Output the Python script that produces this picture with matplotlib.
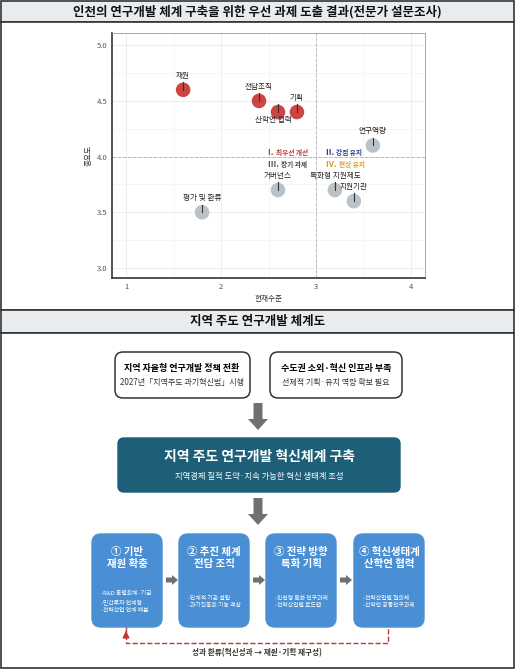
import matplotlib
matplotlib.use("Agg")
import matplotlib.pyplot as plt
from matplotlib.patches import FancyBboxPatch, Rectangle, FancyArrow

plt.rcParams['font.family'] = ['Noto Sans CJK KR', 'DejaVu Sans']

labels = ["재원", "전담조직", "산학연 협력", "기획", "연구역량", "거버넌스", "특화형 지원제도", "지원기관", "평가 및 환류"]
current = [1.6, 2.4, 2.6, 2.8, 3.6, 2.6, 3.2, 3.4, 1.8]
importance = [4.6, 4.5, 4.4, 4.4, 4.1, 3.7, 3.7, 3.6, 3.5]
priority = [True, True, True, True, False, False, False, False, False]

W, H = 515, 670
fig = plt.figure(figsize=(W/100, H/100), dpi=100)
bg = fig.add_axes([0, 0, 1, 1])
bg.set_xlim(0, W); bg.set_ylim(H, 0); bg.axis('off')

def header(y0, y1, text):
    bg.add_patch(Rectangle((1, y0), W-2, y1-y0, fc='#e9ecef', ec='#333', lw=1.2))
    bg.text(W/2, (y0+y1)/2, text, ha='center', va='center', fontsize=9, weight='bold', color='#111')

header(1, 22, "인천의 연구개발 체계 구축을 위한 우선 과제 도출 결과(전문가 설문조사)")
bg.add_patch(Rectangle((1, 22), W-2, 288, fc='white', ec='#333', lw=1.2))
header(310, 333, "지역 주도 연구개발 체계도")
bg.add_patch(Rectangle((1, 333), W-2, 335, fc='white', ec='#333', lw=1.2))

# scatter axes
ax = fig.add_axes([112/W, 1-278/H, (425-112)/W, (278-33)/H])
ax.set_xlim(0.85, 4.15); ax.set_ylim(2.91, 5.11)
ax.set_xticks([1, 2, 3, 4]); ax.set_yticks([3.0, 3.5, 4.0, 4.5, 5.0])
ax.set_yticklabels(["3.0", "3.5", "4.0", "4.5", "5.0"])
ax.tick_params(labelsize=5.5, colors='#555', length=0)
ax.grid(True, color='#ebebeb', lw=0.6)
ax.set_xticks([1.5, 2.5, 3.5], minor=True); ax.set_yticks([3.25, 3.75, 4.25, 4.75], minor=True)
ax.grid(True, which='minor', color='#f3f3f3', lw=0.5)
ax.tick_params(which='minor', length=0)
for s in ['top', 'right']:
    ax.spines[s].set_color('#999'); ax.spines[s].set_linewidth(0.6)
for s in ['left', 'bottom']:
    ax.spines[s].set_color('#333'); ax.spines[s].set_linewidth(1.2)
ax.axvline(3.0, color='#bbb', ls='--', lw=0.7)
ax.axhline(4.0, color='#bbb', ls='--', lw=0.7)
ax.set_xlabel("현재수준", fontsize=5.5, color='#333', labelpad=3)
ax.set_ylabel("중요도", fontsize=5.5, color='#333', labelpad=3)
for x, y, l, p in zip(current, importance, labels, priority):
    ax.scatter(x, y, s=110, color='#cc4444' if p else '#b8c2c8', zorder=3, edgecolors='none')
    ax.plot([x, x], [y, y+0.07], color='#333', lw=0.8, zorder=4)
    if l == "산학연 협력":
        ax.text(x-0.05, y-0.07, l, ha='center', va='center', fontsize=5.5, color='#222', zorder=5)
    else:
        ax.text(x, y+0.09, l, ha='center', va='bottom', fontsize=5.5, color='#222', zorder=5)

def quad(x, y, num, txt, c, tc, va):
    t = ax.text(x, y, num + " ", ha='left', va=va, fontsize=6, color=c, weight='bold')
    ax.annotate(txt, xycoords=t, xy=(1, 0.5), va='center', ha='left', fontsize=4.8, color=tc, weight='bold')

quad(2.5, 4.035, "I.", "최우선 개선", '#c0392b', '#c0392b', 'center')
quad(2.5, 3.93, "III.", "장기 과제", '#555', '#444', 'center')
quad(3.11, 4.035, "II.", "강점 유지", '#2c3e8c', '#2c3e8c', 'center')
quad(3.11, 3.93, "IV.", "현상 유지", '#e0a020', '#e0a020', 'center')

# diagram
def rbox(x0, y0, x1, y1, fc, ec, lw=1, r=8):
    bg.add_patch(FancyBboxPatch((x0, y0), x1-x0, y1-y0, boxstyle=f"round,pad=0,rounding_size={r}",
                                fc=fc, ec=ec, lw=lw))

rbox(115, 352, 250, 398, 'white', '#333', 1.1)
bg.text(182, 368, "지역 자율형 연구개발 정책 전환", ha='center', va='center', fontsize=6.5, weight='bold')
bg.text(182, 382, "2027년「지역주도 과기혁신법」시행", ha='center', va='center', fontsize=5.8, color='#333')
rbox(270, 352, 402, 398, 'white', '#333', 1.1)
bg.text(336, 368, "수도권 소외·혁신 인프라 부족", ha='center', va='center', fontsize=6.5, weight='bold')
bg.text(336, 382, "선제적 기획·유치 역량 확보 필요", ha='center', va='center', fontsize=5.8, color='#333')

def down_arrow(x, y0, y1):
    bg.add_patch(FancyArrow(x, y0, 0, y1-y0, width=9, head_width=20, head_length=11,
                            length_includes_head=True, color='#707070', lw=0))

down_arrow(258, 403, 430)
rbox(118, 438, 400, 492, '#1d5f78', '#1d5f78', 1, 6)
bg.text(259, 457, "지역 주도 연구개발 혁신체계 구축", ha='center', va='center', fontsize=10, weight='bold', color='white')
bg.text(259, 477, "지역경제 질적 도약·지속 가능한 혁신 생태계 조성", ha='center', va='center', fontsize=6, color='white')
down_arrow(258, 498, 525)

steps = [("① 기반\n재원 확충", "-R&D 특별회계·기금\n-민간투자 연계형\n-전략산업 연계 배분"),
         ("② 추진 체계\n전담 조직", "-단계적 기관 설립\n-과기진흥회 기능 격상"),
         ("③ 전략 방향\n특화 기획", "-인천형 특화 연구과제\n-전략산업별 로드맵"),
         ("④ 혁신생태계\n산학연 협력", "-전략산업별 협의체\n-산학연 공동연구과제")]
xs = [92, 179, 266, 354]
for x0, (t, s) in zip(xs, steps):
    rbox(x0, 534, x0+70, 627, '#4a8fd4', '#4a8fd4', 1, 9)
    bg.text(x0+35, 558, t, ha='center', va='center', fontsize=7.5, weight='bold', color='white', linespacing=1.3)
    bg.text(x0+9, 602, s, ha='left', va='center', fontsize=4.2, color='white', linespacing=1.6)
for x0 in xs[:3]:
    bg.add_patch(FancyArrow(x0+74, 580, 12, 0, width=5, head_width=10, head_length=6,
                            length_includes_head=True, color='#707070', lw=0))
bg.plot([126, 126, 388, 388], [627, 643, 643, 627], color='#c0392b', ls='--', lw=1)
bg.annotate("", xy=(126, 628), xytext=(126, 636), arrowprops=dict(arrowstyle='-|>', color='#c0392b', lw=1))
bg.text(257, 653, "성과 환류(혁신성과 → 재원·기획 재구성)", ha='center', va='center', fontsize=5.5, color='#333', weight='bold')

fig.savefig("out.png", dpi=100)
